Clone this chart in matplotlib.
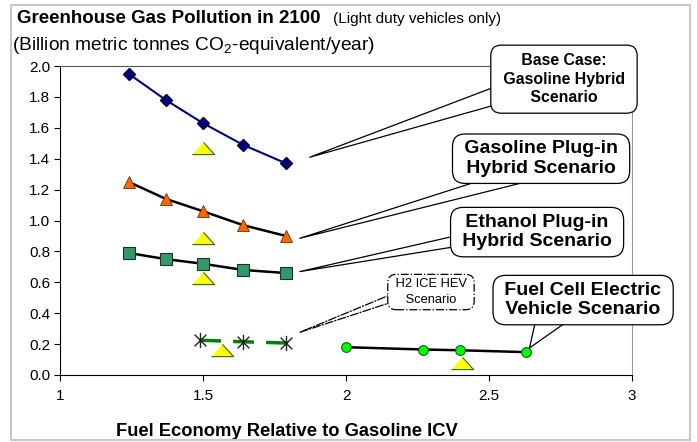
import matplotlib
matplotlib.use("Agg")
import matplotlib.pyplot as plt
from matplotlib.patches import Rectangle
from matplotlib.path import Path

plt.rcParams['font.family'] = ['Liberation Sans', 'DejaVu Sans']
plt.rcParams['mathtext.fontset'] = 'custom'
plt.rcParams['mathtext.rm'] = 'Liberation Sans'

# dados
fuel_economy = [1.24, 1.37, 1.50, 1.64, 1.79]
base_case = [1.95, 1.78, 1.63, 1.49, 1.37]
gas_phev = [1.25, 1.14, 1.06, 0.97, 0.90]
ethanol_phev = [0.79, 0.75, 0.72, 0.68, 0.66]

h2_x = [1.49, 1.64, 1.79]
h2_y = [0.225, 0.215, 0.207]

fcev_x = [2.00, 2.27, 2.40, 2.63]
fcev_y = [0.18, 0.165, 0.16, 0.148]

yellow_x = [1.50, 1.50, 1.50, 1.565, 2.405]
yellow_y = [1.47, 0.885, 0.63, 0.165, 0.08]

x_ticks = [1, 1.5, 2, 2.5, 3]
x_tick_labels = ['1', '1.5', '2', '2.5', '3']
y_ticks = [0.0, 0.2, 0.4, 0.6, 0.8, 1.0, 1.2, 1.4, 1.6, 1.8, 2.0]

fig = plt.figure(figsize=(6.97, 4.42), dpi=100)
ax = fig.add_axes([0.0861, 0.1516, 0.8207, 0.699])

# moldura externa cinza
fig.patches.append(Rectangle((11 / 697, 2 / 442), 679 / 697, 435 / 442,
                             transform=fig.transFigure, fill=False,
                             edgecolor='#c8c8c8', linewidth=1.5))

flat_triangle = [(-1, -0.55), (1, -0.55), (0, 0.55)]
# estrela do Excel: X com traco vertical
star = Path([(-1, -1), (1, 1), (-1, 1), (1, -1), (0, -1.3), (0, 1.3)],
            [Path.MOVETO, Path.LINETO] * 3)

ax.plot(fuel_economy, base_case, color='#000080', lw=1.5, marker='D',
        ms=6, mfc='#000080', mec='#000033', zorder=3)
ax.plot(fuel_economy, gas_phev, color='black', lw=1.8, marker='^',
        ms=8, mfc='#ff6600', mec='#663300', mew=0.6, zorder=3)
ax.plot(fuel_economy, ethanol_phev, color='black', lw=1.8, marker='s',
        ms=8.5, mfc='#339966', mec='#1a3322', mew=0.8, zorder=3)
ax.plot(h2_x, h2_y, color='#008000', lw=2.5, ls=(0, (6, 3.5)), zorder=3)
ax.plot(h2_x, h2_y, ls='none', marker=star, ms=11, mec='#222222',
        mew=1, zorder=4)
ax.plot(fcev_x, fcev_y, color='black', lw=1.8, marker='o', ms=7,
        mfc='#00ff00', mec='#006600', mew=0.8, zorder=3)
ax.plot(yellow_x, yellow_y, ls='none', marker=flat_triangle, ms=16,
        mfc='#ffff00', mec='#336600', mew=0.8, zorder=2)

ax.set_xlim(1, 3)
ax.set_ylim(0, 2)
ax.set_xticks(x_ticks)
ax.set_xticklabels(x_tick_labels)
ax.set_yticks(y_ticks)
ax.set_yticklabels(['%.1f' % v for v in y_ticks])
ax.tick_params(axis='both', direction='out', length=4, width=0.8,
               labelsize=11, color='black')
ax.tick_params(axis='x', pad=6)
ax.tick_params(axis='y', pad=3)
ax.spines['top'].set_color('#555555')
ax.spines['top'].set_linewidth(0.8)
ax.spines['right'].set_color('#999999')
ax.spines['right'].set_linewidth(0.8)

ax.set_xlabel('Fuel Economy Relative to Gasoline ICV', fontsize=13.2,
              fontweight='bold')
ax.xaxis.set_label_coords(0.397, -0.155)

fig.text(17 / 697, 1 - 23 / 442, 'Greenhouse Gas Pollution in 2100',
         fontsize=13.5, fontweight='bold', va='baseline', ha='left')
fig.text(333 / 697, 1 - 23 / 442, '(Light duty vehicles only)',
         fontsize=11, va='baseline', ha='left')
fig.text(12 / 697, 1 - 50 / 442,
         '(Billion metric tonnes CO$_2$-equivalent/year)',
         fontsize=13.8, va='baseline', ha='left')

# caixas de texto com ponteiro (balao)
def callout(text, tip, box, size, pad, relpos, tail, ls='-',
            weight='bold', spacing=1.2):
    ax.annotate(text, xy=tip, xytext=box, ha='center', va='center',
                fontsize=size, fontweight=weight, linespacing=spacing,
                annotation_clip=False, zorder=5,
                bbox=dict(boxstyle='round,pad=%s,rounding_size=0.65' % pad,
                          fc='white', ec='black', lw=0.9, ls=ls),
                arrowprops=dict(arrowstyle='wedge,tail_width=%s' % tail,
                                fc='white', ec='black', lw=0.9, ls=ls,
                                relpos=relpos, patchA=None, shrinkA=0,
                                shrinkB=2))

callout(' Base Case: \n Gasoline Hybrid \n Scenario ', (1.864, 1.404),
        (2.762, 1.915), 11.4, 0.5, (0.12, 0.3), 1.2, spacing=1.3)
callout(' Gasoline Plug-in \n Hybrid Scenario ', (1.829, 0.88),
        (2.682, 1.40), 14, 0.33, (0.42, 0.1), 0.8)
callout(' Ethanol Plug-in \n Hybrid Scenario ', (1.829, 0.666),
        (2.668, 0.925), 14, 0.33, (0.12, 0.36), 0.62)
callout(' H2 ICE HEV \n Scenario ', (1.829, 0.27), (2.297, 0.537), 9.3,
        0.3, (0.09, 0.37), 0.62, ls='-.', weight='normal', spacing=1.4)
callout(' Fuel Cell Electric \n Vehicle Scenario ', (2.636, 0.16),
        (2.829, 0.485), 14, 0.33, (0.33, 0.22), 1.8)

fig.savefig('out.png', dpi=100)
